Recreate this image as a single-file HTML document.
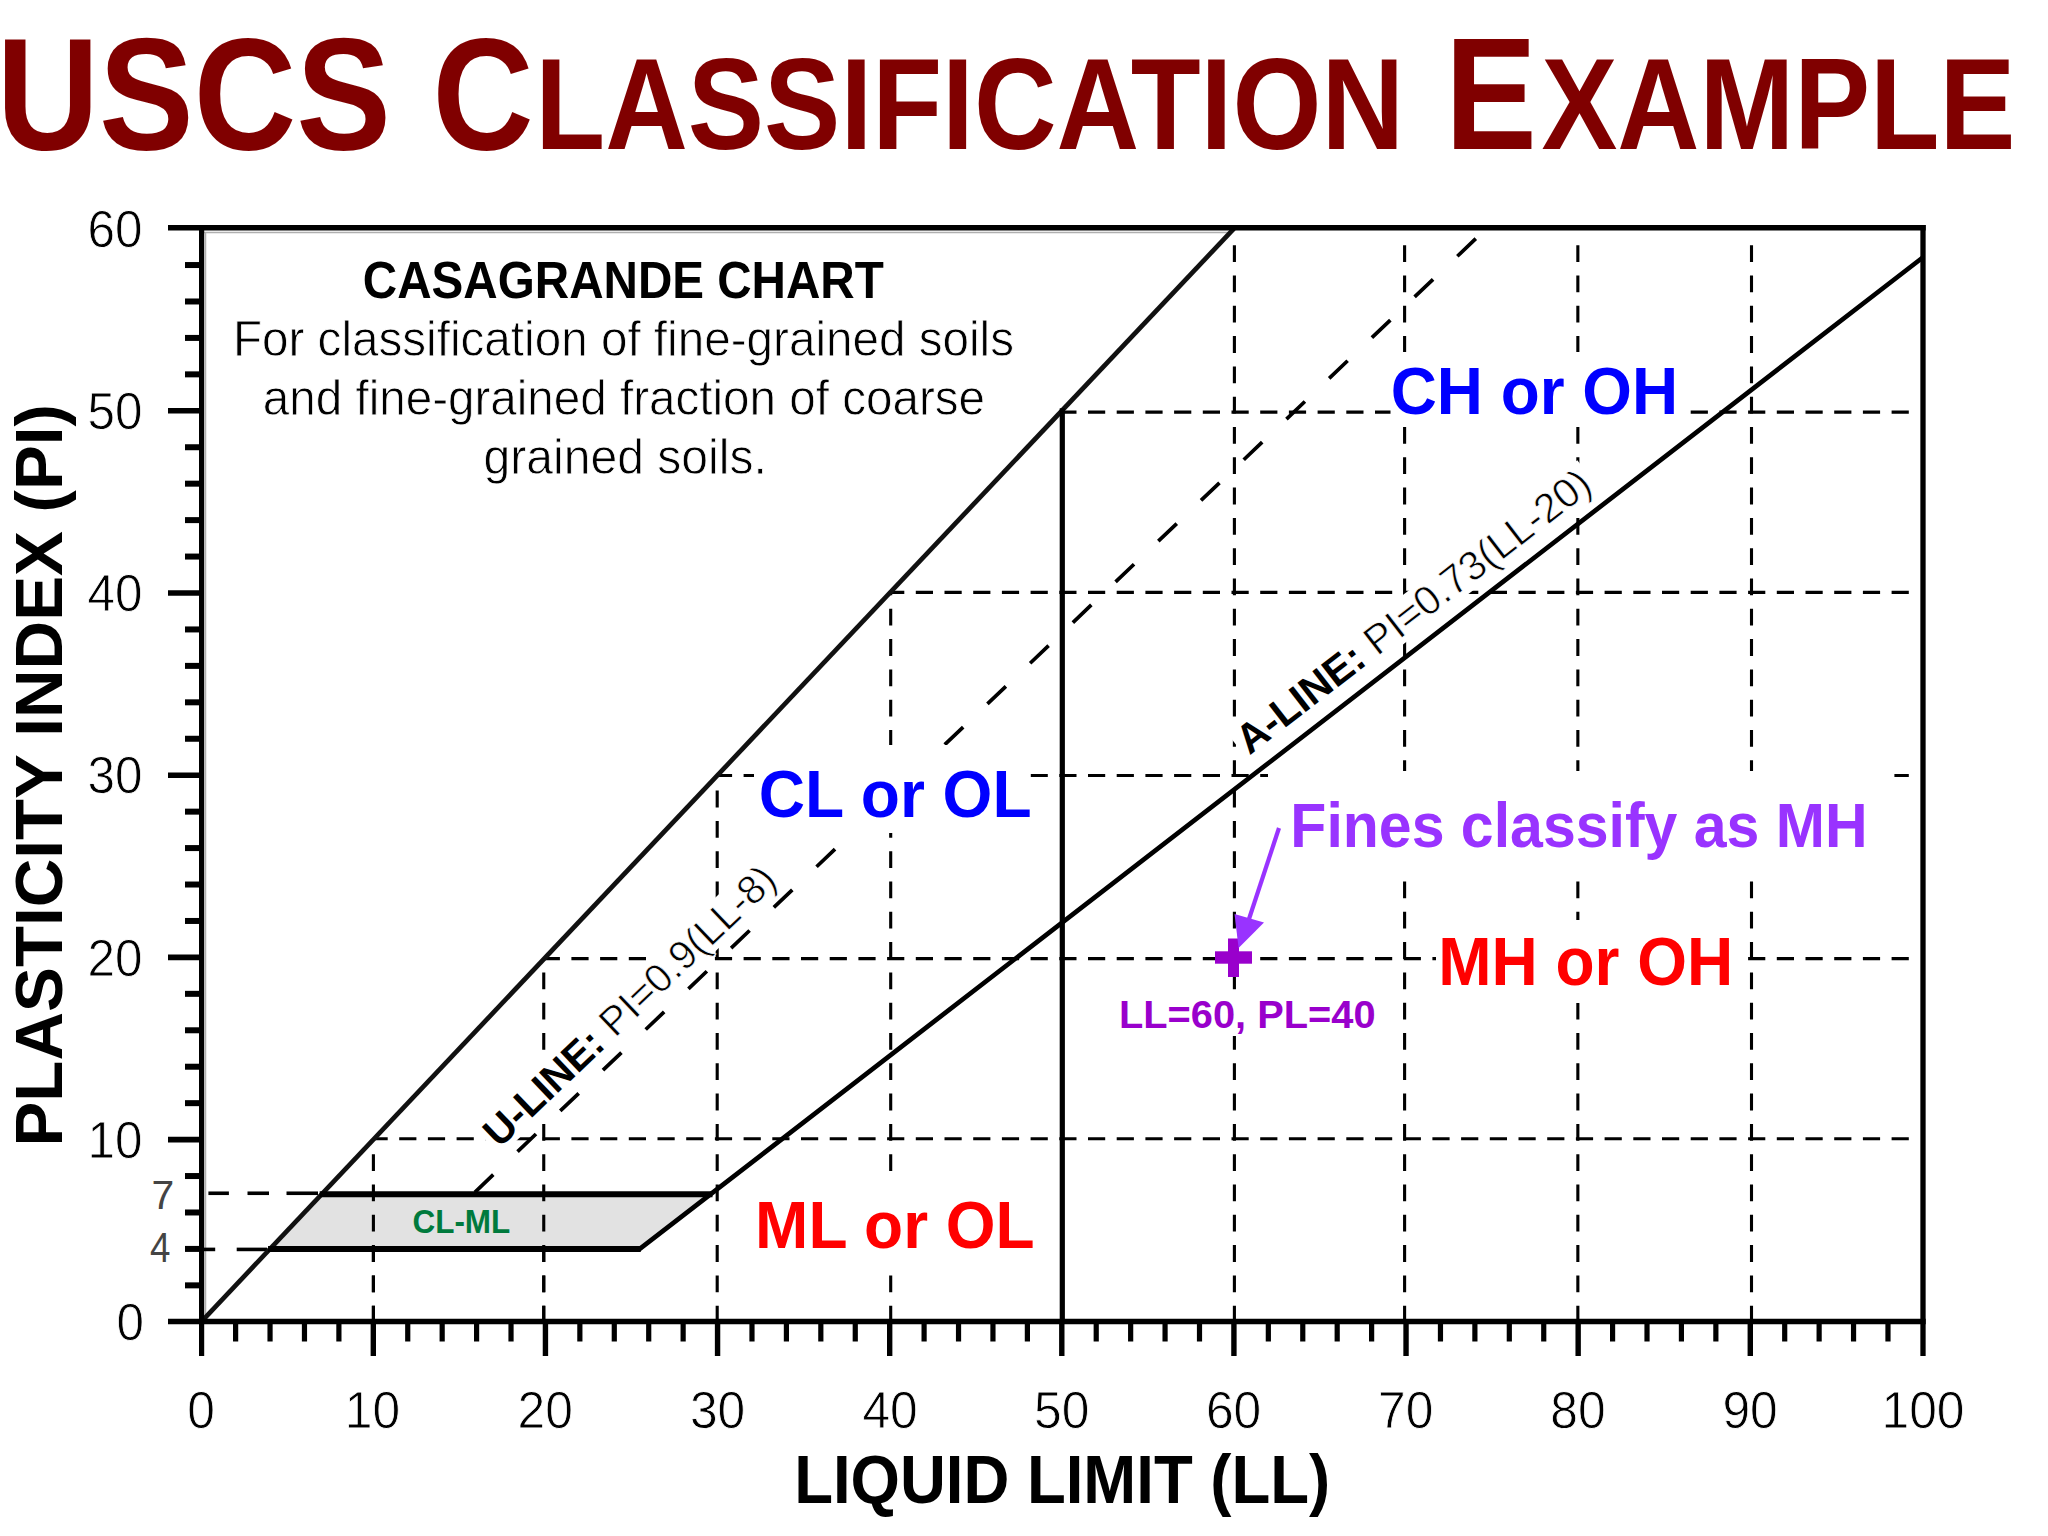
<!DOCTYPE html>
<html><head><meta charset="utf-8"><title>USCS Classification Example</title>
<style>html,body{margin:0;padding:0;background:#fff;overflow:hidden}svg{display:block}text{font-family:"Liberation Sans",Arial,sans-serif}</style></head><body>
<svg width="2048" height="1536" viewBox="0 0 2048 1536">
<rect width="2048" height="1536" fill="#fff"/>
<g id="title">
<text transform="translate(-3.53,149.20) scale(0.8850,1)" font-size="160.47" font-weight="bold" fill="#800000">USCS</text>
<text transform="translate(432.55,149.20) scale(0.8731,1)" font-size="160.47" font-weight="bold" fill="#800000">C</text>
<text transform="translate(535.24,149.20) scale(0.8758,1)" font-size="130.67" font-weight="bold" fill="#800000">LASSIFICATION</text>
<text transform="translate(1445.10,149.20) scale(0.8575,1)" font-size="160.47" font-weight="bold" fill="#800000">E</text>
<text transform="translate(1541.50,149.20) scale(0.8704,1)" font-size="130.67" font-weight="bold" fill="#800000">XAMPLE</text>
</g>
<g id="chart">
<line x1="204.00" y1="232.50" x2="1227.92" y2="232.50" stroke="#b0b0b0" stroke-width="1.5"/>
<line x1="205.50" y1="232.00" x2="205.50" y2="1316.00" stroke="#b0b0b0" stroke-width="1.5"/>
<g id="grid" stroke="#000">
<line x1="373.40" y1="1322.50" x2="373.40" y2="1139.52" stroke="#000" stroke-width="3.1" stroke-dasharray="16.8 13.5"/>
<line x1="543.75" y1="1322.50" x2="543.75" y2="959.19" stroke="#000" stroke-width="3.1" stroke-dasharray="16.8 13.5"/>
<line x1="717.20" y1="1322.50" x2="717.20" y2="775.58" stroke="#000" stroke-width="3.1" stroke-dasharray="16.8 13.5"/>
<line x1="890.70" y1="1322.50" x2="890.70" y2="591.92" stroke="#000" stroke-width="3.1" stroke-dasharray="16.8 13.5"/>
<line x1="1234.40" y1="1322.50" x2="1234.40" y2="240.50" stroke="#000" stroke-width="3.1" stroke-dasharray="16.8 13.5"/>
<line x1="1404.60" y1="1322.50" x2="1404.60" y2="240.50" stroke="#000" stroke-width="3.1" stroke-dasharray="16.8 13.5"/>
<line x1="1577.85" y1="1322.50" x2="1577.85" y2="240.50" stroke="#000" stroke-width="3.1" stroke-dasharray="16.8 13.5"/>
<line x1="1751.50" y1="1322.50" x2="1751.50" y2="240.50" stroke="#000" stroke-width="3.1" stroke-dasharray="16.8 13.5"/>
<line x1="1920.30" y1="1138.80" x2="374.08" y2="1138.80" stroke="#000" stroke-width="3.1" stroke-dasharray="17.2 11.5" stroke-dashoffset="17.2"/>
<line x1="1920.30" y1="958.60" x2="544.31" y2="958.60" stroke="#000" stroke-width="3.1" stroke-dasharray="17.2 11.5" stroke-dashoffset="17.2"/>
<line x1="1920.30" y1="775.45" x2="717.32" y2="775.45" stroke="#000" stroke-width="3.1" stroke-dasharray="17.2 11.5" stroke-dashoffset="17.2"/>
<line x1="1920.30" y1="592.35" x2="890.29" y2="592.35" stroke="#000" stroke-width="3.1" stroke-dasharray="17.2 11.5" stroke-dashoffset="17.2"/>
<line x1="1920.30" y1="412.15" x2="1060.52" y2="412.15" stroke="#000" stroke-width="3.1" stroke-dasharray="17.2 11.5" stroke-dashoffset="17.2"/>
<line x1="208.40" y1="1193.26" x2="228.90" y2="1193.26" stroke="#000" stroke-width="3.6"/>
<line x1="247.50" y1="1193.26" x2="269.00" y2="1193.26" stroke="#000" stroke-width="3.6"/>
<line x1="286.50" y1="1193.26" x2="318.00" y2="1193.26" stroke="#000" stroke-width="3.6"/>
<line x1="199.00" y1="1249.42" x2="215.20" y2="1249.42" stroke="#000" stroke-width="3.6"/>
<line x1="236.70" y1="1249.42" x2="267.00" y2="1249.42" stroke="#000" stroke-width="3.6"/>
</g>
<line x1="464.54" y1="1202.09" x2="1480.05" y2="234.61" stroke="#000" stroke-width="3.7" stroke-dasharray="25.5 33.5" stroke-dashoffset="-14.2"/>
<rect x="1390.5" y="352.0" width="299.5" height="74.0" fill="#fff"/>
<rect x="754.0" y="745.0" width="276.5" height="88.0" fill="#fff"/>
<rect x="1436.0" y="920.0" width="309.5" height="83.0" fill="#fff"/>
<rect x="745.0" y="1178.5" width="295.0" height="84.0" fill="#fff"/>
<rect x="1268.0" y="771.0" width="626.4" height="109.0" fill="#fff"/>
<rect x="1115.0" y="990.0" width="265.0" height="46.0" fill="#fff"/>
<rect transform="translate(499.30,1148.80) rotate(-43.61)" x="-4" y="-32.9" width="394.0" height="38.9" fill="#fff"/>
<rect transform="translate(1249.50,755.50) rotate(-37.70)" x="-4" y="-33.2" width="444.0" height="39.2" fill="#fff"/>
<polygon points="270.05,1248.92 321.68,1194.26 710.49,1194.26 639.75,1248.92" fill="#e2e2e2"/>
<line x1="373.40" y1="1322.50" x2="373.40" y2="1194.26" stroke="#000" stroke-width="3.1" stroke-dasharray="16.8 13.5"/>
<line x1="543.75" y1="1322.50" x2="543.75" y2="1194.26" stroke="#000" stroke-width="3.1" stroke-dasharray="16.8 13.5"/>
<line x1="201.20" y1="1321.80" x2="1233.92" y2="228.60" stroke="#111" stroke-width="4.7"/>
<polyline points="269.05,1248.92 639.75,1248.92 1922.40,257.75" fill="none" stroke="#000" stroke-width="4.7" stroke-linejoin="miter"/>
<line x1="268.05" y1="1248.92" x2="640.75" y2="1248.92" stroke="#000" stroke-width="6"/>
<line x1="319.68" y1="1194.26" x2="712.49" y2="1194.26" stroke="#000" stroke-width="6"/>
<line x1="1062.30" y1="1321.80" x2="1062.30" y2="408.27" stroke="#000" stroke-width="5.2"/>
<line x1="168.00" y1="1321.50" x2="1925.70" y2="1321.50" stroke="#000" stroke-width="5.6"/>
<line x1="168.00" y1="227.70" x2="1925.70" y2="227.70" stroke="#000" stroke-width="5.6"/>
<line x1="201.60" y1="225.00" x2="201.60" y2="1356.00" stroke="#000" stroke-width="5.2"/>
<line x1="1923.00" y1="225.00" x2="1923.00" y2="1356.00" stroke="#000" stroke-width="5.3"/>
<line x1="235.62" y1="1321.80" x2="235.62" y2="1341.50" stroke="#000" stroke-width="5.2"/>
<line x1="270.05" y1="1321.80" x2="270.05" y2="1341.50" stroke="#000" stroke-width="5.2"/>
<line x1="304.47" y1="1321.80" x2="304.47" y2="1341.50" stroke="#000" stroke-width="5.2"/>
<line x1="338.90" y1="1321.80" x2="338.90" y2="1341.50" stroke="#000" stroke-width="5.2"/>
<line x1="373.32" y1="1321.80" x2="373.32" y2="1356.00" stroke="#000" stroke-width="5.4"/>
<line x1="407.74" y1="1321.80" x2="407.74" y2="1341.50" stroke="#000" stroke-width="5.2"/>
<line x1="442.17" y1="1321.80" x2="442.17" y2="1341.50" stroke="#000" stroke-width="5.2"/>
<line x1="476.59" y1="1321.80" x2="476.59" y2="1341.50" stroke="#000" stroke-width="5.2"/>
<line x1="511.02" y1="1321.80" x2="511.02" y2="1341.50" stroke="#000" stroke-width="5.2"/>
<line x1="545.44" y1="1321.80" x2="545.44" y2="1356.00" stroke="#000" stroke-width="5.4"/>
<line x1="579.86" y1="1321.80" x2="579.86" y2="1341.50" stroke="#000" stroke-width="5.2"/>
<line x1="614.29" y1="1321.80" x2="614.29" y2="1341.50" stroke="#000" stroke-width="5.2"/>
<line x1="648.71" y1="1321.80" x2="648.71" y2="1341.50" stroke="#000" stroke-width="5.2"/>
<line x1="683.14" y1="1321.80" x2="683.14" y2="1341.50" stroke="#000" stroke-width="5.2"/>
<line x1="717.56" y1="1321.80" x2="717.56" y2="1356.00" stroke="#000" stroke-width="5.4"/>
<line x1="751.98" y1="1321.80" x2="751.98" y2="1341.50" stroke="#000" stroke-width="5.2"/>
<line x1="786.41" y1="1321.80" x2="786.41" y2="1341.50" stroke="#000" stroke-width="5.2"/>
<line x1="820.83" y1="1321.80" x2="820.83" y2="1341.50" stroke="#000" stroke-width="5.2"/>
<line x1="855.26" y1="1321.80" x2="855.26" y2="1341.50" stroke="#000" stroke-width="5.2"/>
<line x1="889.68" y1="1321.80" x2="889.68" y2="1356.00" stroke="#000" stroke-width="5.4"/>
<line x1="924.10" y1="1321.80" x2="924.10" y2="1341.50" stroke="#000" stroke-width="5.2"/>
<line x1="958.53" y1="1321.80" x2="958.53" y2="1341.50" stroke="#000" stroke-width="5.2"/>
<line x1="992.95" y1="1321.80" x2="992.95" y2="1341.50" stroke="#000" stroke-width="5.2"/>
<line x1="1027.38" y1="1321.80" x2="1027.38" y2="1341.50" stroke="#000" stroke-width="5.2"/>
<line x1="1061.80" y1="1321.80" x2="1061.80" y2="1356.00" stroke="#000" stroke-width="5.4"/>
<line x1="1096.22" y1="1321.80" x2="1096.22" y2="1341.50" stroke="#000" stroke-width="5.2"/>
<line x1="1130.65" y1="1321.80" x2="1130.65" y2="1341.50" stroke="#000" stroke-width="5.2"/>
<line x1="1165.07" y1="1321.80" x2="1165.07" y2="1341.50" stroke="#000" stroke-width="5.2"/>
<line x1="1199.50" y1="1321.80" x2="1199.50" y2="1341.50" stroke="#000" stroke-width="5.2"/>
<line x1="1233.92" y1="1321.80" x2="1233.92" y2="1356.00" stroke="#000" stroke-width="5.4"/>
<line x1="1268.34" y1="1321.80" x2="1268.34" y2="1341.50" stroke="#000" stroke-width="5.2"/>
<line x1="1302.77" y1="1321.80" x2="1302.77" y2="1341.50" stroke="#000" stroke-width="5.2"/>
<line x1="1337.19" y1="1321.80" x2="1337.19" y2="1341.50" stroke="#000" stroke-width="5.2"/>
<line x1="1371.62" y1="1321.80" x2="1371.62" y2="1341.50" stroke="#000" stroke-width="5.2"/>
<line x1="1406.04" y1="1321.80" x2="1406.04" y2="1356.00" stroke="#000" stroke-width="5.4"/>
<line x1="1440.46" y1="1321.80" x2="1440.46" y2="1341.50" stroke="#000" stroke-width="5.2"/>
<line x1="1474.89" y1="1321.80" x2="1474.89" y2="1341.50" stroke="#000" stroke-width="5.2"/>
<line x1="1509.31" y1="1321.80" x2="1509.31" y2="1341.50" stroke="#000" stroke-width="5.2"/>
<line x1="1543.74" y1="1321.80" x2="1543.74" y2="1341.50" stroke="#000" stroke-width="5.2"/>
<line x1="1578.16" y1="1321.80" x2="1578.16" y2="1356.00" stroke="#000" stroke-width="5.4"/>
<line x1="1612.58" y1="1321.80" x2="1612.58" y2="1341.50" stroke="#000" stroke-width="5.2"/>
<line x1="1647.01" y1="1321.80" x2="1647.01" y2="1341.50" stroke="#000" stroke-width="5.2"/>
<line x1="1681.43" y1="1321.80" x2="1681.43" y2="1341.50" stroke="#000" stroke-width="5.2"/>
<line x1="1715.86" y1="1321.80" x2="1715.86" y2="1341.50" stroke="#000" stroke-width="5.2"/>
<line x1="1750.28" y1="1321.80" x2="1750.28" y2="1356.00" stroke="#000" stroke-width="5.4"/>
<line x1="1784.70" y1="1321.80" x2="1784.70" y2="1341.50" stroke="#000" stroke-width="5.2"/>
<line x1="1819.13" y1="1321.80" x2="1819.13" y2="1341.50" stroke="#000" stroke-width="5.2"/>
<line x1="1853.55" y1="1321.80" x2="1853.55" y2="1341.50" stroke="#000" stroke-width="5.2"/>
<line x1="1887.98" y1="1321.80" x2="1887.98" y2="1341.50" stroke="#000" stroke-width="5.2"/>
<line x1="185.00" y1="1285.36" x2="201.60" y2="1285.36" stroke="#000" stroke-width="6"/>
<line x1="185.00" y1="1248.92" x2="201.60" y2="1248.92" stroke="#000" stroke-width="6"/>
<line x1="185.00" y1="1212.48" x2="201.60" y2="1212.48" stroke="#000" stroke-width="6"/>
<line x1="185.00" y1="1176.04" x2="201.60" y2="1176.04" stroke="#000" stroke-width="6"/>
<line x1="168.00" y1="1139.60" x2="201.60" y2="1139.60" stroke="#000" stroke-width="5.6"/>
<line x1="185.00" y1="1103.16" x2="201.60" y2="1103.16" stroke="#000" stroke-width="6"/>
<line x1="185.00" y1="1066.72" x2="201.60" y2="1066.72" stroke="#000" stroke-width="6"/>
<line x1="185.00" y1="1030.28" x2="201.60" y2="1030.28" stroke="#000" stroke-width="6"/>
<line x1="185.00" y1="993.84" x2="201.60" y2="993.84" stroke="#000" stroke-width="6"/>
<line x1="168.00" y1="957.40" x2="201.60" y2="957.40" stroke="#000" stroke-width="5.6"/>
<line x1="185.00" y1="920.96" x2="201.60" y2="920.96" stroke="#000" stroke-width="6"/>
<line x1="185.00" y1="884.52" x2="201.60" y2="884.52" stroke="#000" stroke-width="6"/>
<line x1="185.00" y1="848.08" x2="201.60" y2="848.08" stroke="#000" stroke-width="6"/>
<line x1="185.00" y1="811.64" x2="201.60" y2="811.64" stroke="#000" stroke-width="6"/>
<line x1="168.00" y1="775.20" x2="201.60" y2="775.20" stroke="#000" stroke-width="5.6"/>
<line x1="185.00" y1="738.76" x2="201.60" y2="738.76" stroke="#000" stroke-width="6"/>
<line x1="185.00" y1="702.32" x2="201.60" y2="702.32" stroke="#000" stroke-width="6"/>
<line x1="185.00" y1="665.88" x2="201.60" y2="665.88" stroke="#000" stroke-width="6"/>
<line x1="185.00" y1="629.44" x2="201.60" y2="629.44" stroke="#000" stroke-width="6"/>
<line x1="168.00" y1="593.00" x2="201.60" y2="593.00" stroke="#000" stroke-width="5.6"/>
<line x1="185.00" y1="556.56" x2="201.60" y2="556.56" stroke="#000" stroke-width="6"/>
<line x1="185.00" y1="520.12" x2="201.60" y2="520.12" stroke="#000" stroke-width="6"/>
<line x1="185.00" y1="483.68" x2="201.60" y2="483.68" stroke="#000" stroke-width="6"/>
<line x1="185.00" y1="447.24" x2="201.60" y2="447.24" stroke="#000" stroke-width="6"/>
<line x1="168.00" y1="410.80" x2="201.60" y2="410.80" stroke="#000" stroke-width="5.6"/>
<line x1="185.00" y1="374.36" x2="201.60" y2="374.36" stroke="#000" stroke-width="6"/>
<line x1="185.00" y1="337.92" x2="201.60" y2="337.92" stroke="#000" stroke-width="6"/>
<line x1="185.00" y1="301.48" x2="201.60" y2="301.48" stroke="#000" stroke-width="6"/>
<line x1="185.00" y1="265.04" x2="201.60" y2="265.04" stroke="#000" stroke-width="6"/>
<text transform="translate(187.36,1428.00) scale(0.9700,1)" font-size="51.31" fill="#000" stroke="#fff" stroke-width="0.8">0</text>
<text transform="translate(344.72,1428.00) scale(0.9700,1)" font-size="51.31" fill="#000" stroke="#fff" stroke-width="0.8">10</text>
<text transform="translate(517.48,1428.00) scale(0.9700,1)" font-size="51.31" fill="#000" stroke="#fff" stroke-width="0.8">20</text>
<text transform="translate(689.90,1428.00) scale(0.9700,1)" font-size="51.31" fill="#000" stroke="#fff" stroke-width="0.8">30</text>
<text transform="translate(862.40,1428.00) scale(0.9700,1)" font-size="51.31" fill="#000" stroke="#fff" stroke-width="0.8">40</text>
<text transform="translate(1034.10,1428.00) scale(0.9700,1)" font-size="51.31" fill="#000" stroke="#fff" stroke-width="0.8">50</text>
<text transform="translate(1205.95,1428.00) scale(0.9700,1)" font-size="51.31" fill="#000" stroke="#fff" stroke-width="0.8">60</text>
<text transform="translate(1378.06,1428.00) scale(0.9700,1)" font-size="51.31" fill="#000" stroke="#fff" stroke-width="0.8">70</text>
<text transform="translate(1550.37,1428.00) scale(0.9700,1)" font-size="51.31" fill="#000" stroke="#fff" stroke-width="0.8">80</text>
<text transform="translate(1722.41,1428.00) scale(0.9700,1)" font-size="51.31" fill="#000" stroke="#fff" stroke-width="0.8">90</text>
<text transform="translate(1881.46,1428.00) scale(0.9700,1)" font-size="51.31" fill="#000" stroke="#fff" stroke-width="0.8">100</text>
<text transform="translate(116.44,1339.90) scale(0.9500,1)" font-size="52.04" fill="#000" stroke="#fff" stroke-width="0.8">0</text>
<text transform="translate(87.44,1157.70) scale(0.9500,1)" font-size="52.04" fill="#000" stroke="#fff" stroke-width="0.8">10</text>
<text transform="translate(87.44,975.50) scale(0.9500,1)" font-size="52.04" fill="#000" stroke="#fff" stroke-width="0.8">20</text>
<text transform="translate(87.44,793.30) scale(0.9500,1)" font-size="52.04" fill="#000" stroke="#fff" stroke-width="0.8">30</text>
<text transform="translate(87.44,611.10) scale(0.9500,1)" font-size="52.04" fill="#000" stroke="#fff" stroke-width="0.8">40</text>
<text transform="translate(87.44,428.90) scale(0.9500,1)" font-size="52.04" fill="#000" stroke="#fff" stroke-width="0.8">50</text>
<text transform="translate(87.44,246.70) scale(0.9500,1)" font-size="52.04" fill="#000" stroke="#fff" stroke-width="0.8">60</text>
<text transform="translate(151.60,1208.60) scale(0.9947,1)" font-size="41.13" fill="#444">7</text>
<text transform="translate(149.96,1262.30) scale(0.8620,1)" font-size="42.59" fill="#444">4</text>
<text transform="translate(794.15,1502.90) scale(0.9256,1)" font-size="68.61" font-weight="bold" fill="#000">LIQUID LIMIT (LL)</text>
<text transform="translate(62.3,1146.50) rotate(-90) scale(0.9953,1)" font-size="67.59" font-weight="bold" fill="#000">PLASTICITY INDEX (PI)</text>
<text transform="translate(362.85,297.80) scale(0.9307,1)" font-size="51.16" font-weight="bold" fill="#000">CASAGRANDE CHART</text>
<text transform="translate(232.89,355.60) scale(0.9501,1)" font-size="50.15" fill="#000" stroke="#fff" stroke-width="0.8">For classification of fine-grained soils</text>
<text transform="translate(262.78,414.50) scale(0.9494,1)" font-size="50.15" fill="#000" stroke="#fff" stroke-width="0.8">and fine-grained fraction of coarse</text>
<text transform="translate(483.48,473.60) scale(0.9592,1)" font-size="50.15" fill="#000" stroke="#fff" stroke-width="0.8">grained soils.</text>
<text transform="translate(1390.68,414.00) scale(0.9637,1)" font-size="66.28" font-weight="bold" fill="#0000ff">CH or OH</text>
<text transform="translate(758.67,816.80) scale(0.9545,1)" font-size="67.15" font-weight="bold" fill="#0000ff">CL or OL</text>
<text transform="translate(1438.22,985.20) scale(0.9329,1)" font-size="68.61" font-weight="bold" fill="#ff0000">MH or OH</text>
<text transform="translate(755.12,1248.40) scale(0.9550,1)" font-size="67.01" font-weight="bold" fill="#ff0000">ML or OL</text>
<text transform="translate(412.41,1233.00) scale(0.9422,1)" font-size="33.43" font-weight="bold" fill="#007a3d">CL-ML</text>
<text transform="translate(1290.35,847.40) scale(0.9314,1)" font-size="63.37" font-weight="bold" fill="#9933ff">Fines classify as MH</text>
<text transform="translate(1118.94,1028.00) scale(1.0144,1)" font-size="39.24" font-weight="bold" fill="#9900cc">LL=60, PL=40</text>
<text transform="translate(499.30,1148.80) rotate(-43.61) scale(1.0001,1)" font-size="40.50" fill="#000" stroke="#fff" stroke-width="0.7"><tspan font-weight="bold" stroke="none">U-LINE:</tspan> PI=0.9(LL-8)</text>
<text transform="translate(1249.50,755.50) rotate(-37.70) scale(0.9992,1)" font-size="41.00" fill="#000" stroke="#fff" stroke-width="0.7"><tspan font-weight="bold" stroke="none">A-LINE:</tspan> PI=0.73(LL-20)</text>
<rect x="1215.0" y="951.3" width="37" height="12.4" fill="#9900cc"/>
<rect x="1228.0" y="938.5" width="11" height="38.5" fill="#9900cc"/>
<line x1="1279.00" y1="828.00" x2="1249.00" y2="919.00" stroke="#9933ff" stroke-width="4.2"/>
<polygon points="1238.6,948 1234.5,914 1264,922.5" fill="#9933ff"/>
</g>
</svg></body></html>
